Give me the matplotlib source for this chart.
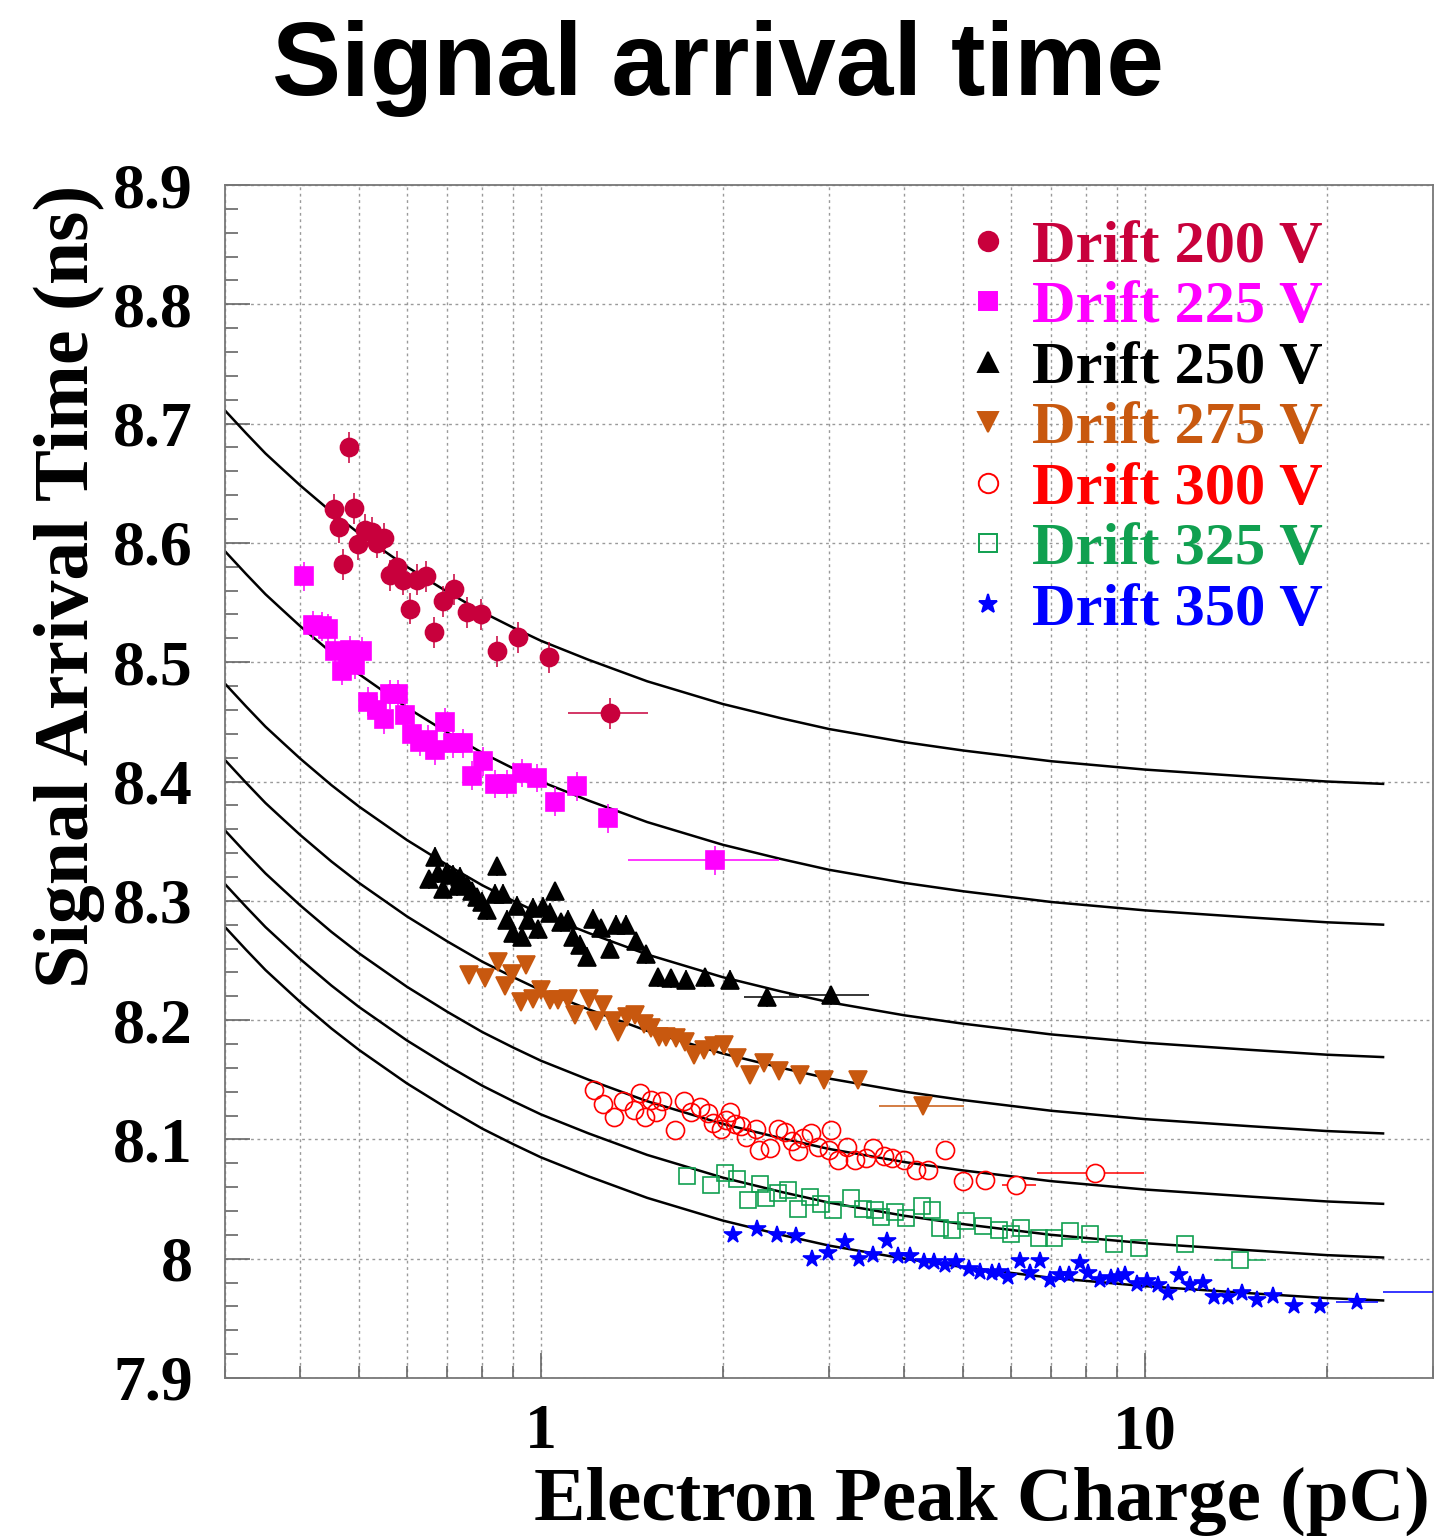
import numpy as np
import matplotlib
matplotlib.use("Agg")
import matplotlib.pyplot as plt
from matplotlib.lines import Line2D
from matplotlib.ticker import LogLocator, MultipleLocator, FuncFormatter, NullFormatter

# ---------------- data ----------------
labels = ["Drift 200 V", "Drift 225 V", "Drift 250 V", "Drift 275 V",
          "Drift 300 V", "Drift 325 V", "Drift 350 V"]

d200_x = [0.482, 0.454, 0.491, 0.464, 0.512, 0.525, 0.499, 0.549, 0.535, 0.471, 0.563, 0.579,
          0.592, 0.623, 0.646, 0.607, 0.666, 0.690, 0.719, 0.754, 0.796, 0.845, 0.917, 1.031]
d200_y = [8.680, 8.628, 8.629, 8.613, 8.611, 8.609, 8.599, 8.604, 8.600, 8.582, 8.573, 8.580,
          8.569, 8.569, 8.572, 8.545, 8.525, 8.551, 8.561, 8.542, 8.540, 8.509, 8.521, 8.504]
w200 = [(1.30, 8.457, 1.108, 1.502)]

d225_x = [0.406, 0.420, 0.434, 0.445, 0.457, 0.484, 0.505, 0.468, 0.493, 0.480, 0.518, 0.535,
          0.549, 0.563, 0.580, 0.596, 0.611, 0.631, 0.651, 0.668, 0.694, 0.716, 0.744, 0.768,
          0.803, 0.839, 0.878, 0.929, 0.984, 1.055, 1.146, 1.292]
d225_y = [8.572, 8.531, 8.530, 8.528, 8.509, 8.510, 8.509, 8.493, 8.498, 8.505, 8.467, 8.460,
          8.452, 8.473, 8.473, 8.456, 8.440, 8.433, 8.435, 8.426, 8.450, 8.432, 8.432, 8.405,
          8.417, 8.398, 8.398, 8.407, 8.403, 8.383, 8.396, 8.369]
w225 = [(1.94, 8.334, 1.393, 2.48)]

d250_x = [0.668, 0.654, 0.677, 0.698, 0.716, 0.735, 0.690, 0.726, 0.754, 0.768, 0.783, 0.798,
          0.813, 0.847, 0.839, 0.866, 0.912, 0.878, 0.900, 0.929, 0.953, 0.971, 1.009, 1.035,
          0.990, 1.055, 1.082, 1.109, 1.131, 1.160, 1.194, 1.220, 1.260, 1.334, 1.386, 1.300,
          1.436, 1.495, 1.563, 1.644, 1.741, 1.867, 2.054]
d250_y = [8.337, 8.318, 8.323, 8.324, 8.322, 8.320, 8.310, 8.312, 8.313, 8.308, 8.303, 8.299,
          8.292, 8.329, 8.306, 8.306, 8.296, 8.284, 8.273, 8.270, 8.284, 8.294, 8.295, 8.290,
          8.276, 8.308, 8.282, 8.284, 8.270, 8.263, 8.253, 8.285, 8.277, 8.280, 8.280, 8.260,
          8.266, 8.255, 8.236, 8.235, 8.234, 8.236, 8.234]
w250 = [(2.37, 8.219, 2.17, 2.68), (3.02, 8.221, 2.58, 3.50)]

d275_x = [0.761, 0.807, 0.850, 0.896, 0.944, 0.873, 0.926, 0.969, 1.001, 1.034, 1.069, 1.111,
          1.141, 1.202, 1.234, 1.266, 1.317, 1.343, 1.388, 1.434, 1.481, 1.521, 1.571, 1.613,
          1.677, 1.733, 1.790, 1.862, 1.936, 2.014, 2.109, 2.222, 2.341, 2.483, 2.685, 2.942, 3.352]
d275_y = [8.238, 8.235, 8.249, 8.239, 8.246, 8.229, 8.215, 8.218, 8.225, 8.217, 8.217, 8.218,
          8.204, 8.218, 8.199, 8.213, 8.199, 8.190, 8.203, 8.204, 8.197, 8.193, 8.186, 8.186,
          8.185, 8.182, 8.171, 8.175, 8.178, 8.179, 8.168, 8.154, 8.164, 8.157, 8.154, 8.150, 8.150]
w275 = [(4.30, 8.128, 3.63, 5.02)]

d300_x = [1.224, 1.268, 1.322, 1.369, 1.428, 1.459, 1.490, 1.521, 1.587, 1.554, 1.666, 1.726,
          1.775, 1.838, 1.890, 1.930, 1.986, 2.056, 2.027, 2.100, 2.144, 2.189, 2.267, 2.300,
          2.398, 2.467, 2.537, 2.609, 2.664, 2.721, 2.798, 2.877, 3.000, 3.022, 3.108, 3.218,
          3.311, 3.452, 3.550, 3.702, 3.808, 4.000, 4.172, 4.380, 4.665, 5.003, 5.441]
d300_y = [8.141, 8.130, 8.119, 8.132, 8.125, 8.139, 8.119, 8.133, 8.132, 8.123, 8.108, 8.132,
          8.123, 8.127, 8.122, 8.114, 8.109, 8.123, 8.116, 8.113, 8.111, 8.102, 8.109, 8.091,
          8.093, 8.109, 8.106, 8.099, 8.090, 8.101, 8.105, 8.094, 8.091, 8.108, 8.083, 8.094,
          8.083, 8.084, 8.093, 8.086, 8.084, 8.083, 8.074, 8.074, 8.091, 8.065, 8.066]
w300 = [(6.13, 8.062, 5.80, 6.60), (8.28, 8.072, 6.63, 9.95)]

d325_x = [1.748, 1.913, 2.016, 2.110, 2.308, 2.207, 2.362, 2.470, 2.566, 2.664, 2.787, 2.915,
          3.050, 3.264, 3.414, 3.572, 3.652, 3.851, 4.029, 4.280, 4.442, 4.578, 4.790, 5.048,
          5.402, 5.740, 6.002, 6.232, 6.672, 7.085, 7.521, 8.113, 8.878, 9.79, 11.64]
d325_y = [8.069, 8.062, 8.072, 8.067, 8.063, 8.049, 8.051, 8.055, 8.058, 8.042, 8.052, 8.046,
          8.041, 8.051, 8.042, 8.041, 8.035, 8.039, 8.034, 8.044, 8.041, 8.026, 8.024, 8.032,
          8.027, 8.024, 8.021, 8.026, 8.017, 8.017, 8.023, 8.021, 8.012, 8.009, 8.012]
w325 = [(14.4, 7.999, 13.0, 15.9)]

d350_x = [2.083, 2.278, 2.459, 2.641, 2.811, 2.992, 3.184, 3.359, 3.545, 3.738, 3.910, 4.089,
          4.313, 4.470, 4.674, 4.869, 5.110, 5.343, 5.586, 5.737, 5.946, 6.217, 6.443, 6.713,
          6.957, 7.237, 7.499, 7.799, 8.054, 8.420, 8.806, 9.044, 9.289, 9.712, 10.07, 10.52,
          10.91, 11.40, 11.88, 12.47, 13.04, 13.71, 14.46, 15.31, 16.30, 17.66, 19.48]
d350_y = [8.020, 8.025, 8.020, 8.019, 8.000, 8.005, 8.014, 8.000, 8.003, 8.015, 8.002, 8.002,
          7.997, 7.997, 7.995, 7.997, 7.991, 7.989, 7.988, 7.989, 7.985, 7.998, 7.988, 7.998,
          7.982, 7.986, 7.986, 7.996, 7.988, 7.982, 7.984, 7.985, 7.986, 7.979, 7.981, 7.978,
          7.971, 7.986, 7.978, 7.980, 7.968, 7.968, 7.971, 7.965, 7.969, 7.960, 7.960]
w350 = [(22.47, 7.964, 20.7, 24.3), (40.0, 7.972, 24.8, 60.0)]

# fitted curves
curve_x = [0.3, 0.325, 0.35, 0.375, 0.4, 0.45, 0.5, 0.6, 0.7, 0.8, 0.9, 1.0, 1.2, 1.5, 2,
           2.5, 3, 4, 5, 7, 10, 15, 20, 24.8]
fit200 = [8.711, 8.692, 8.675, 8.661, 8.648, 8.626, 8.608, 8.580, 8.559, 8.542, 8.529, 8.518,
          8.502, 8.484, 8.465, 8.453, 8.444, 8.433, 8.426, 8.417, 8.410, 8.404, 8.400, 8.398]
fit225 = [8.593, 8.574, 8.557, 8.543, 8.530, 8.508, 8.490, 8.462, 8.441, 8.424, 8.411, 8.400,
          8.384, 8.366, 8.347, 8.335, 8.326, 8.315, 8.308, 8.299, 8.292, 8.286, 8.282, 8.280]
fit250 = [8.482, 8.463, 8.446, 8.432, 8.419, 8.397, 8.379, 8.351, 8.330, 8.313, 8.300, 8.289,
          8.273, 8.255, 8.236, 8.224, 8.215, 8.204, 8.197, 8.188, 8.181, 8.175, 8.171, 8.169]
fit275 = [8.418, 8.399, 8.382, 8.368, 8.355, 8.333, 8.315, 8.287, 8.266, 8.249, 8.236, 8.225,
          8.209, 8.191, 8.172, 8.160, 8.151, 8.140, 8.133, 8.124, 8.117, 8.111, 8.107, 8.105]
fit300 = [8.359, 8.340, 8.323, 8.309, 8.296, 8.274, 8.256, 8.228, 8.207, 8.190, 8.177, 8.166,
          8.150, 8.132, 8.113, 8.101, 8.092, 8.081, 8.074, 8.065, 8.058, 8.052, 8.048, 8.046]
fit325 = [8.314, 8.295, 8.278, 8.264, 8.251, 8.229, 8.211, 8.183, 8.162, 8.145, 8.132, 8.121,
          8.105, 8.087, 8.068, 8.056, 8.047, 8.036, 8.029, 8.020, 8.013, 8.007, 8.003, 8.001]
fit350 = [8.278, 8.259, 8.242, 8.228, 8.215, 8.193, 8.175, 8.147, 8.126, 8.109, 8.096, 8.085,
          8.069, 8.051, 8.032, 8.020, 8.011, 8.000, 7.993, 7.984, 7.977, 7.971, 7.967, 7.965]

yerr_vals = [0.013, 0.012, 0.008, 0.006, 0.0, 0.0, 0.0]

# ---------------- styles ----------------
colors = ["#c8003c", "#ff00ff", "#000000", "#c8580f", "#ff0000", "#10a050", "#0000ff"]
markers = ["o", "s", "^", "v", "o", "s", "*"]
filled = [True, True, True, True, False, False, True]
msizes = [13, 12.5, 13, 13, 13, 12, 13]

series_x = [d200_x, d225_x, d250_x, d275_x, d300_x, d325_x, d350_x]
series_y = [d200_y, d225_y, d250_y, d275_y, d300_y, d325_y, d350_y]
wides = [w200, w225, w250, w275, w300, w325, w350]
fits = [fit200, fit225, fit250, fit275, fit300, fit325, fit350]

plt.rcParams["font.family"] = ["Liberation Serif", "DejaVu Serif"]
plt.rcParams["font.weight"] = "bold"

fig = plt.figure(figsize=(14.35, 15.36), dpi=100)
ax = fig.add_axes([225 / 1435, 1 - 1378 / 1536, 1208 / 1435, 1193 / 1536])
ax.set_xscale("log")
ax.set_xlim(0.3, 30)
ax.set_ylim(7.9, 8.9)

# grid
ax.xaxis.set_major_locator(LogLocator(base=10, numticks=10))
ax.xaxis.set_minor_locator(LogLocator(base=10, subs=np.arange(2, 10), numticks=20))
ax.xaxis.set_major_formatter(FuncFormatter(lambda v, p: "%g" % v))
ax.xaxis.set_minor_formatter(NullFormatter())
ax.yaxis.set_major_locator(MultipleLocator(0.1))
ax.yaxis.set_minor_locator(MultipleLocator(0.02))
ax.yaxis.set_major_formatter(FuncFormatter(lambda v, p: "%g" % round(v, 2)))

grid_kw = dict(color="#9a9a9a", linewidth=1.0, linestyle=(0, (2.0, 2.6)))
ax.grid(True, axis="x", which="both", **grid_kw)
ax.grid(True, axis="y", which="major", **grid_kw)
ax.set_axisbelow(True)

for sp in ax.spines.values():
    sp.set_color("#777777")
    sp.set_linewidth(1.3)

ax.tick_params(axis="both", which="both", direction="in", color="#666666", width=1.2,
               top=False, right=False)
ax.tick_params(axis="y", which="major", length=18, pad=23, labelsize=46)
ax.tick_params(axis="y", which="minor", length=9)
ax.tick_params(axis="x", which="major", length=18, pad=19, labelsize=46)
ax.tick_params(axis="x", which="minor", length=9)

# fit curves
for f in fits:
    ax.plot(curve_x, f, color="black", linewidth=1.8, zorder=2)

# data points
for i in range(7):
    c = colors[i]
    mfc = c if filled[i] else "none"
    ax.errorbar(series_x[i], series_y[i], yerr=yerr_vals[i], fmt=markers[i], ms=msizes[i],
                mfc=mfc, mec=c, mew=1.2, ecolor=c, elinewidth=1.1, capsize=0, zorder=3)
    wx = [w[0] for w in wides[i]]
    wy = [w[1] for w in wides[i]]
    wlo = [w[0] - w[2] for w in wides[i]]
    whi = [w[3] - w[0] for w in wides[i]]
    ax.errorbar(wx, wy, xerr=[wlo, whi], yerr=yerr_vals[i], fmt=markers[i], ms=msizes[i],
                mfc=c if filled[i] else "white", mec=c, mew=1.2, ecolor=c, elinewidth=1.1,
                capsize=0, zorder=3)

# legend
handles = []
for i in range(7):
    c = colors[i]
    handles.append(Line2D([], [], linestyle="none", marker=markers[i], ms=msizes[i] + 1,
                          mfc=c if filled[i] else "none", mec=c, mew=1.4))
leg = ax.legend(handles, labels, loc="upper left", bbox_to_anchor=(0.6116, 0.971),
                frameon=False, fontsize=43.5, handlelength=0.8, handletextpad=0.33,
                labelspacing=0.086, borderpad=0, borderaxespad=0, labelcolor=colors)

# axis labels
ax.set_xlabel("Electron Peak Charge (pC)", fontsize=55.5, fontweight="bold", loc="right")
ax.xaxis.set_label_coords(0.9975, -0.074)
ax.set_ylabel("Signal Arrival Time (ns)", fontsize=56, fontweight="bold", loc="top")
ax.yaxis.set_label_coords(-0.099, 1.0)

fig.text(0.5, 1 - 95 / 1536, "Signal arrival time", ha="center", va="baseline",
         fontsize=74.5, fontweight="bold", family=["Liberation Sans", "DejaVu Sans"])

fig.savefig("out.png", dpi=100)
